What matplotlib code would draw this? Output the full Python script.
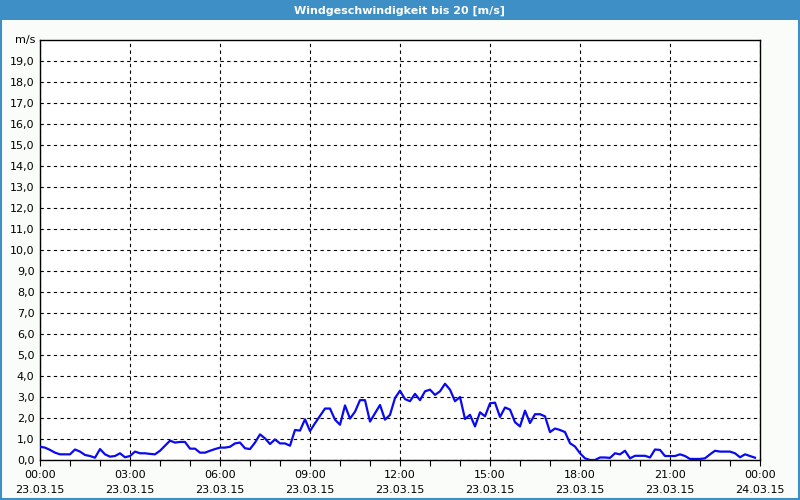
import matplotlib.pyplot as plt
import numpy as np
from matplotlib.patches import Rectangle

# wind speed in m/s, one value every 10 minutes from 23.03.15 00:00
speed = [
    0.63, 0.59, 0.48, 0.35, 0.27, 0.27, 0.27, 0.50, 0.40, 0.24, 0.19, 0.11,
    0.52, 0.27, 0.16, 0.19, 0.32, 0.13, 0.19, 0.40, 0.32, 0.32, 0.29, 0.27,
    0.44, 0.68, 0.92, 0.83, 0.86, 0.86, 0.54, 0.54, 0.35, 0.35, 0.44, 0.52,
    0.59, 0.59, 0.63, 0.79, 0.83, 0.56, 0.52, 0.83, 1.22, 1.03, 0.76, 0.98,
    0.79, 0.79, 0.68, 1.43, 1.40, 1.94, 1.38, 1.75, 2.10, 2.45, 2.45, 1.92,
    1.68, 2.60, 1.97, 2.30, 2.85, 2.85, 1.83, 2.22, 2.62, 1.92, 2.15, 2.95,
    3.30, 2.90, 2.80, 3.15, 2.85, 3.27, 3.35, 3.10, 3.27, 3.63, 3.35, 2.80,
    3.00, 1.95, 2.15, 1.60, 2.27, 2.08, 2.70, 2.73, 2.05, 2.50, 2.40, 1.80,
    1.60, 2.35, 1.76, 2.18, 2.18, 2.08, 1.33, 1.50, 1.43, 1.33, 0.80, 0.64,
    0.32, 0.08, 0.00, 0.00, 0.12, 0.12, 0.10, 0.32, 0.27, 0.44, 0.08, 0.20,
    0.20, 0.20, 0.12, 0.50, 0.48, 0.19, 0.19, 0.19, 0.27, 0.19, 0.05, 0.05,
    0.05, 0.08, 0.27, 0.44, 0.40, 0.40, 0.40, 0.32, 0.13, 0.27, 0.19, 0.11,
]
hours = np.arange(len(speed)) / 6.0

xtick_hours = [0, 3, 6, 9, 12, 15, 18, 21, 24]
xtick_labels = [
    "00:00\n23.03.15", "03:00\n23.03.15", "06:00\n23.03.15", "09:00\n23.03.15",
    "12:00\n23.03.15", "15:00\n23.03.15", "18:00\n23.03.15", "21:00\n23.03.15",
    "00:00\n24.03.15",
]
ytick_values = list(range(0, 20))
ytick_labels = ["%d,0" % v for v in ytick_values]

title = "Windgeschwindigkeit bis 20 [m/s]"
blue = "#3d8fc6"

fig = plt.figure(figsize=(8, 5), dpi=100, facecolor="#fafcfa")

# title bar and frame
fig.patches.append(Rectangle((0, 0.96), 1, 0.04, transform=fig.transFigure,
                             facecolor=blue, edgecolor="none", zorder=0))
fig.patches.append(Rectangle((0.001, 0.002), 0.998, 0.997, transform=fig.transFigure,
                             facecolor="none", edgecolor=blue, linewidth=1.5, zorder=0))
fig.text(0.5, 0.979, title, color="white", ha="center", va="center",
         fontsize=8, fontweight="bold")

ax = fig.add_axes([0.05, 0.08, 0.9, 0.84])
ax.set_facecolor("white")
ax.plot(hours, speed, color="#0a0af0", linewidth=1.6, zorder=3)

ax.set_xlim(0, 24)
ax.set_ylim(0, 20)
ax.set_xticks(xtick_hours)
ax.set_xticklabels(xtick_labels, fontsize=8, linespacing=1.7)
ax.set_xticks(range(0, 25), minor=True)
ax.set_yticks(ytick_values)
ax.set_yticklabels(ytick_labels, fontsize=8)

ax.tick_params(axis="x", which="both", direction="out", length=4, width=0.8, pad=3)
ax.tick_params(axis="y", which="both", length=0, pad=4)

ax.grid(True, which="major", color="black", linestyle=(0, (3, 3)), linewidth=0.8)
for s in ax.spines.values():
    s.set_linewidth(1.0)
    s.set_color("black")

ax.text(-0.006, 20, "m/s", transform=ax.get_yaxis_transform(), ha="right",
        va="center", fontsize=8)

plt.savefig("out.png", dpi=100, facecolor=fig.get_facecolor())
